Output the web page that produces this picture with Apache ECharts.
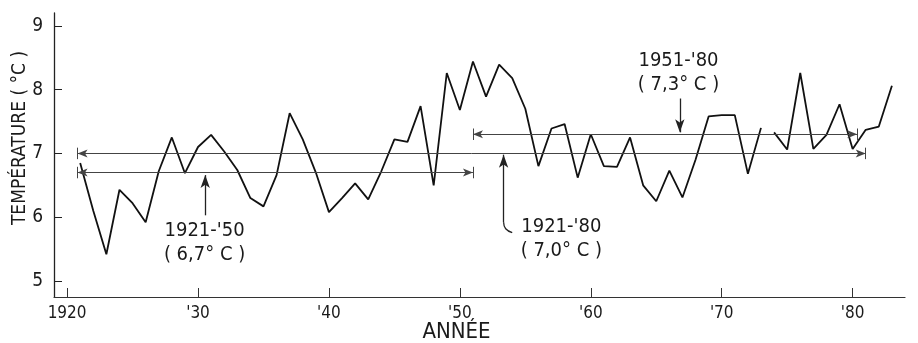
<!DOCTYPE html>
<html>
<head>
<meta charset="utf-8">
<script src="https://cdn.jsdelivr.net/npm/echarts@6/dist/echarts.min.js"></script>
<style>
    html, body { margin: 0; padding: 0; background: #fff; }
    #chart { width: 918px; height: 343px; }
</style>
</head>
<body>
<div id="chart"></div>
<script>
    // annual mean temperature, °C (null = break in the drawn curve)
    const years = [1921, 1922, 1923, 1924, 1925, 1926, 1927, 1928, 1929, 1930,
        1931, 1932, 1933, 1934, 1935, 1936, 1937, 1938, 1939, 1940,
        1941, 1942, 1943, 1944, 1945, 1946, 1947, 1948, 1949, 1950,
        1951, 1952, 1953, 1954, 1955, 1956, 1957, 1958, 1959, 1960,
        1961, 1962, 1963, 1964, 1965, 1966, 1967, 1968, 1969, 1970,
        1971, 1972, 1973, 1973.5, 1974, 1975, 1976, 1977, 1978, 1979, 1980,
        1981, 1982, 1983]
    const temps = [6.85, 6.1, 5.42, 6.43, 6.22, 5.92, 6.72, 7.25, 6.69, 7.1,
        7.29, 7.03, 6.74, 6.3, 6.17, 6.66, 7.63, 7.22, 6.7, 6.08,
        6.3, 6.53, 6.28, 6.72, 7.22, 7.18, 7.74, 6.5, 8.26, 7.68,
        8.44, 7.89, 8.39, 8.18, 7.7, 6.8, 7.39, 7.46, 6.62, 7.3,
        6.8, 6.79, 7.25, 6.5, 6.25, 6.73, 6.31, 6.9, 7.58, 7.6,
        7.6, 6.68, 7.4, null, 7.33, 7.06, 8.26, 7.07, 7.29, 7.77, 7.07,
        7.37, 7.42, 8.06]

    const xTicks = [1920, 1930, 1940, 1950, 1960, 1970, 1980]
    const yTicks = [5, 6, 7, 8, 9]

    // period means: [from, to] and value
    const periodNames = ["1921-'50", "1921-'80", "1951-'80"]
    const periodFrom = [1920.8, 1920.8, 1951]
    const periodTo = [1951, 1981, 1980.35]
    const periodMean = [6.7, 7.0, 7.3]
    const periodText = ['( 6,7° C )', '( 7,0° C )', '( 7,3° C )']

    const FONT = 'DejaVu Sans Condensed, Liberation Sans Narrow, DejaVu Sans, sans-serif'
    const INK = '#1a1a1a'

    const chart = echarts.init(document.getElementById('chart'))

    const meanLines = []
    periodMean.forEach((m, i) => {
        meanLines.push([{ coord: [periodFrom[i], m] }, { coord: [periodTo[i], m] }])
    })
    const endBars = []
    periodMean.forEach((m, i) => {
        [periodFrom[i], periodTo[i]].forEach(x => {
            endBars.push([{ coord: [x, m - 0.09] }, { coord: [x, m + 0.09] }])
        })
    })

    // where the labels and their pointers sit (data coords)
    const notes = [
        { x: 1930.5, y: 5.6, from: 6.03, to: 6.66 },
        { x: 1957.75, y: 5.66, from: 5.92, to: 6.98 },
        { x: 1966.7, y: 8.26, from: 7.86, to: 7.33 }
    ]
    const noteX = [1930.55, 1953.34, 1966.8]

    chart.setOption({
        animation: false,
        textStyle: { fontFamily: FONT, color: INK },
        grid: { left: 54, right: 13, top: 13, bottom: 46, outerBoundsMode: 'none' },
        xAxis: {
            type: 'value',
            min: 1919,
            max: 1984,
            name: 'ANNÉE',
            nameLocation: 'middle',
            nameGap: 24,
            nameMoveOverlap: false,
            nameTextStyle: { fontSize: 22, color: INK, fontFamily: FONT, padding: [0, 46, 0, 0] },
            axisLine: { lineStyle: { color: '#333', width: 1.2 } },
            axisTick: { inside: true, length: 9, customValues: xTicks, lineStyle: { color: '#333' } },
            axisLabel: {
                customValues: xTicks,
                margin: 8,
                fontSize: 17,
                color: INK,
                formatter: v => v === 1920 ? '1920' : "'" + String(v).slice(2)
            },
            splitLine: { show: false }
        },
        yAxis: {
            type: 'value',
            min: 4.75,
            max: 9.2,
            name: 'TEMPÉRATURE ( °C )',
            nameLocation: 'middle',
            nameGap: 24,
            nameMoveOverlap: false,
            nameTextStyle: { fontSize: 19, color: INK, fontFamily: FONT, padding: [0, 0, 0, 34] },
            axisLine: { lineStyle: { color: '#222', width: 1.3 } },
            axisTick: { inside: true, length: 8, customValues: yTicks, lineStyle: { color: '#222' } },
            axisLabel: { customValues: yTicks, margin: 11, fontSize: 19, color: INK },
            splitLine: { show: false }
        },
        series: [
            {
                name: 'Température',
                type: 'line',
                data: years.map((y, i) => [y, temps[i] === null ? '-' : temps[i]]),
                connectNulls: false,
                symbol: 'none',
                lineStyle: { color: '#111', width: 1.8 },
                silent: true
            },
            {
                name: 'Moyennes',
                type: 'line',
                data: [],
                silent: true,
                markLine: {
                    silent: true,
                    symbol: ['arrow', 'arrow'],
                    symbolSize: [6, 10],
                    label: { show: false },
                    lineStyle: { color: '#444', width: 1, type: 'solid' },
                    data: meanLines
                }
            },
            {
                name: 'Bornes',
                type: 'line',
                data: [],
                silent: true,
                markLine: {
                    silent: true,
                    symbol: 'none',
                    label: { show: false },
                    lineStyle: { color: '#444', width: 1, type: 'solid' },
                    data: endBars
                }
            },
            {
                name: 'Renvois',
                type: 'line',
                data: [],
                silent: true,
                markLine: {
                    silent: true,
                    symbol: ['none', 'arrow'],
                    symbolSize: [7, 13],
                    label: { show: false },
                    lineStyle: { color: '#222', width: 1.3, type: 'solid' },
                    data: notes.map((n, i) => [{ coord: [noteX[i], n.from] }, { coord: [noteX[i], n.to] }])
                },
                markPoint: {
                    silent: true,
                    symbol: 'rect',
                    symbolSize: 1,
                    itemStyle: { color: 'rgba(0,0,0,0)' },
                    label: {
                        show: true,
                        position: 'inside',
                        fontSize: 20,
                        lineHeight: 24,
                        color: INK,
                        fontFamily: FONT,
                        align: 'center'
                    },
                    data: notes.map((n, i) => ({
                        coord: [n.x, n.y],
                        value: 0,
                        label: { formatter: periodNames[i] + '\n' + periodText[i] }
                    }))
                }
            },
            {
                name: 'Crochet',
                type: 'line',
                data: [[1953.34, 5.92], [1953.5, 5.82], [1954.0, 5.76]],
                smooth: true,
                symbol: 'none',
                silent: true,
                lineStyle: { color: '#222', width: 1.3 }
            }
        ]
    })
</script>
</body>
</html>
